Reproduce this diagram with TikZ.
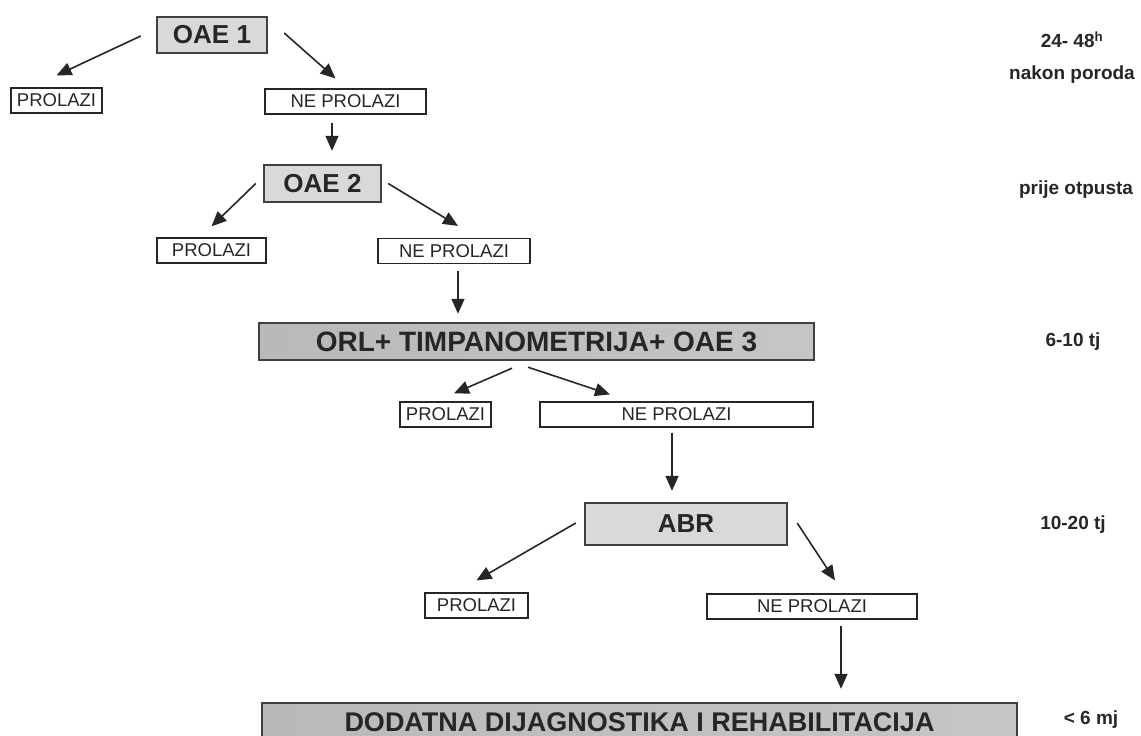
\documentclass[tikz,border=0pt]{standalone}
\usepackage{fontspec}
\setmainfont{Liberation Sans}
\usetikzlibrary{arrows.meta}

\begin{document}
\begin{tikzpicture}[x=1pt, y=-1pt,
    every node/.style={font=\fontsize{18.5}{22}\selectfont, text=black!85, inner sep=0pt},
    test/.style={draw=black!75, line width=2.4pt, fill=gray!30, font=\fontsize{26}{30}\selectfont\bfseries},
    wide/.style={test, left color=gray!55, middle color=gray!18, right color=gray!45},
    result/.style={draw=black!85, line width=1.2pt, fill=white, minimum height=25pt},
    time/.style={font=\fontsize{19}{23}\selectfont\bfseries},
    arr/.style={line width=1.6pt, black!85, -{Triangle[length=15pt,width=13pt]}}]
    \useasboundingbox (0,0) rectangle (1141,736);

    % OAE 1
    \node[test, minimum width=110pt, minimum height=36pt] (oae1) at (212,35) {OAE 1};
    \node[result, minimum width=91pt] (prol1) at (56.5,100.5) {PROLAZI};
    \node[result, minimum width=161pt] (neprol1) at (345.5,101.5) {NE PROLAZI};
    \draw[arr] ([xshift=-15pt,yshift=-1pt]oae1.west) -- ([yshift=12pt]prol1.north);
    \draw[arr] ([xshift=16pt,yshift=2pt]oae1.east) -- ([xshift=-10pt,yshift=10pt]neprol1.north);

    % OAE 2
    \node[test, minimum width=117pt, minimum height=37pt] (oae2) at (322.5,183.5) {OAE 2};
    \draw[arr] ([xshift=-13.5pt,yshift=-8pt]neprol1.south) -- ([xshift=9.5pt,yshift=13pt]oae2.north);
    \node[result, minimum width=109pt] (prol2) at (211.5,250.5) {PROLAZI};
    \node[result, minimum width=152pt] (neprol2) at (454,251) {NE PROLAZI};
    \draw[arr] ([xshift=-7pt]oae2.west) -- ([yshift=11pt]prol2.north);
    \draw[arr] ([xshift=6pt]oae2.east) -- ([xshift=4pt,yshift=12pt]neprol2.north);

    % ORL + timpanometrija
    \node[wide, minimum width=555pt, minimum height=37pt, font=\fontsize{28}{32}\selectfont\bfseries] (orl) at (536.5,341.5) {ORL+ TIMPANOMETRIJA+ OAE 3};
    \draw[arr] ([xshift=4pt,yshift=-7pt]neprol2.south) -- ([xshift=-78.5pt,yshift=8pt]orl.north);
    \node[result, minimum width=91pt] (prol3) at (445.5,414.5) {PROLAZI};
    \node[result, minimum width=273pt] (neprol3) at (676.5,414.5) {NE PROLAZI};
    \draw[arr] ([xshift=-24.5pt,yshift=-7pt]orl.south) -- ([xshift=8.5pt,yshift=8pt]prol3.north);
    \draw[arr] ([xshift=-8.5pt,yshift=-6pt]orl.south) -- ([xshift=-66.5pt,yshift=7pt]neprol3.north);

    % ABR
    \node[test, minimum width=202pt, minimum height=42pt] (abr) at (686,524) {ABR};
    \draw[arr] ([xshift=-4.5pt,yshift=-5pt]neprol3.south) -- ([xshift=-14pt,yshift=11pt]abr.north);
    \node[result, minimum width=103pt] (prol4) at (476.5,605.5) {PROLAZI};
    \node[result, minimum width=210pt] (neprol4) at (812,606.5) {NE PROLAZI};
    \draw[arr] ([xshift=-8pt,yshift=1pt]abr.west) -- ([yshift=12pt]prol4.north);
    \draw[arr] ([xshift=9pt,yshift=1pt]abr.east) -- ([xshift=23pt,yshift=13pt]neprol4.north);

    % dodatna dijagnostika
    \node[wide, minimum width=755pt, minimum height=38pt, font=\fontsize{27}{31}\selectfont\bfseries] (dod) at (639.5,722) {DODATNA DIJAGNOSTIKA I REHABILITACIJA};
    \draw[arr] ([xshift=29pt,yshift=-6pt]neprol4.south) -- ([xshift=201.5pt,yshift=13pt]dod.north);

    % vremena
    \node[time] (t1a) at (1072,40) {24- 48\textsuperscript{h}};
    \node[time] (t1b) at (1072,75) {nakon poroda};
    \node[time] (t2) at (1076,190) {prije otpusta};
    \node[time] (t3) at (1073,342) {6-10 tj};
    \node[time] (t4) at (1073,525) {10-20 tj};
    \node[time] (t5) at (1091,720) {< 6 mj};
\end{tikzpicture}
\end{document}
